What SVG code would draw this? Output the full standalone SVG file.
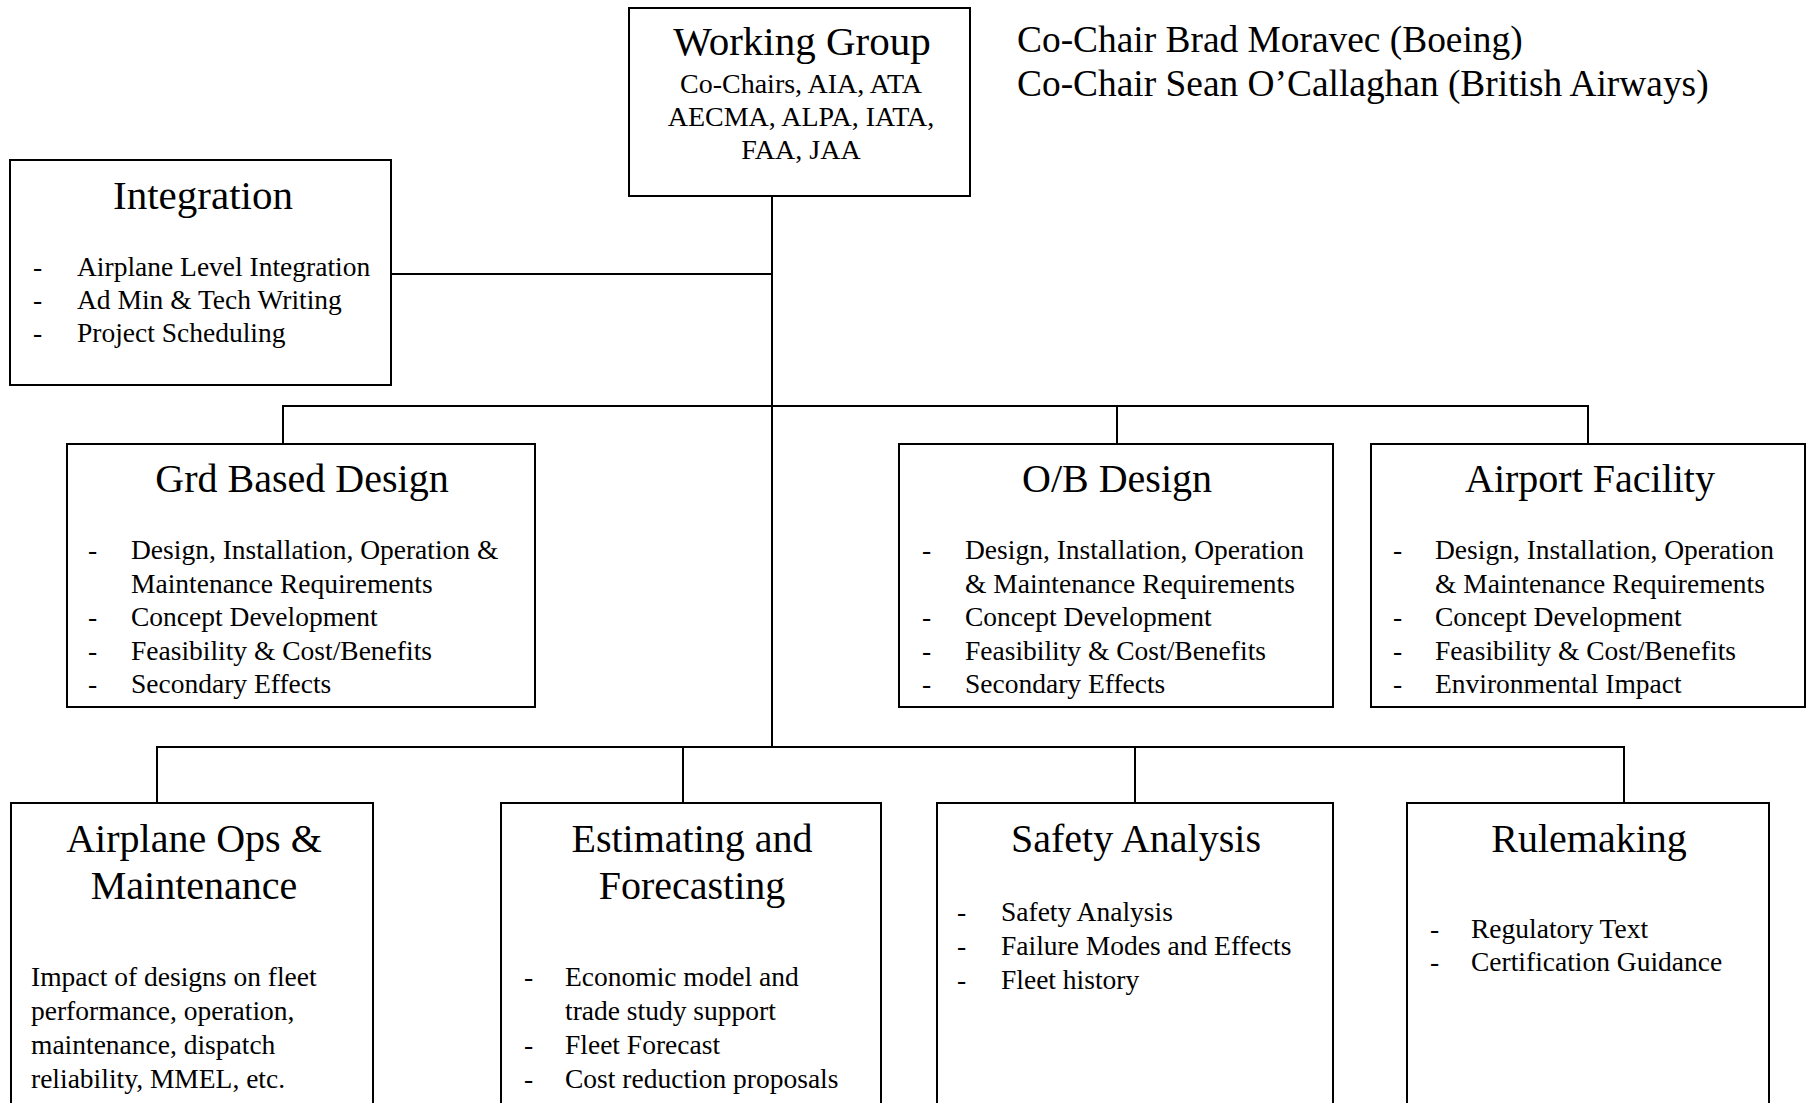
<svg xmlns="http://www.w3.org/2000/svg" width="1807" height="1103" viewBox="0 0 1807 1103">
<style>
.box{fill:#fff;stroke:#000;stroke-width:2}
.ln{fill:none;stroke:#000;stroke-width:2}
text{font-family:"Liberation Serif","Times New Roman",serif;fill:#000}
.t{font-size:40px;text-anchor:middle}
.tl{font-size:41px;text-anchor:middle}
.b{font-size:27.5px}
.s{font-size:28px;text-anchor:middle}
.c{font-size:37.4px}
</style>
<rect width="1807" height="1103" fill="#fff"/>
<g id="connectors">
<path class="ln" d="M772 196V747"/>
<path class="ln" d="M391 274H772"/>
<path class="ln" d="M283 444V406H1588V444"/>
<path class="ln" d="M1117 406V444"/>
<path class="ln" d="M157 803V747H1624V803"/>
<path class="ln" d="M683 747V803"/>
<path class="ln" d="M1135 747V803"/>
</g>
<g id="working-group">
<rect class="box" x="629" y="8" width="341" height="188"/>
<text class="tl" x="802" y="55">Working Group</text>
<text class="s" x="801" y="93">Co-Chairs, AIA, ATA</text>
<text class="s" x="801" y="126">AECMA, ALPA, IATA,</text>
<text class="s" x="801" y="159">FAA, JAA</text>
</g>
<g id="co-chairs">
<text class="c" x="1017" y="52">Co-Chair Brad Moravec (Boeing)</text>
<text class="c" x="1017" y="96">Co-Chair Sean O’Callaghan (British Airways)</text>
</g>
<g id="integration">
<rect class="box" x="10" y="160" width="381" height="225"/>
<text class="tl" x="203" y="209">Integration</text>
<text class="b" x="33" y="276">-</text><text class="b" x="77" y="276">Airplane Level Integration</text>
<text class="b" x="33" y="309">-</text><text class="b" x="77" y="309">Ad Min &amp; Tech Writing</text>
<text class="b" x="33" y="342">-</text><text class="b" x="77" y="342">Project Scheduling</text>
</g>
<g id="grd-based-design">
<rect class="box" x="67" y="444" width="468" height="263"/>
<text class="t" x="302" y="492">Grd Based Design</text>
<text class="b" x="88" y="559">-</text><text class="b" x="131" y="559">Design, Installation, Operation &amp;</text>
<text class="b" x="131" y="593">Maintenance Requirements</text>
<text class="b" x="88" y="626">-</text><text class="b" x="131" y="626">Concept Development</text>
<text class="b" x="88" y="660">-</text><text class="b" x="131" y="660">Feasibility &amp; Cost/Benefits</text>
<text class="b" x="88" y="693">-</text><text class="b" x="131" y="693">Secondary Effects</text>
</g>
<g id="ob-design">
<rect class="box" x="899" y="444" width="434" height="263"/>
<text class="t" x="1117" y="492">O/B Design</text>
<text class="b" x="922" y="559">-</text><text class="b" x="965" y="559">Design, Installation, Operation</text>
<text class="b" x="965" y="593">&amp; Maintenance Requirements</text>
<text class="b" x="922" y="626">-</text><text class="b" x="965" y="626">Concept Development</text>
<text class="b" x="922" y="660">-</text><text class="b" x="965" y="660">Feasibility &amp; Cost/Benefits</text>
<text class="b" x="922" y="693">-</text><text class="b" x="965" y="693">Secondary Effects</text>
</g>
<g id="airport-facility">
<rect class="box" x="1371" y="444" width="434" height="263"/>
<text class="t" x="1590" y="492">Airport Facility</text>
<text class="b" x="1393" y="559">-</text><text class="b" x="1435" y="559">Design, Installation, Operation</text>
<text class="b" x="1435" y="593">&amp; Maintenance Requirements</text>
<text class="b" x="1393" y="626">-</text><text class="b" x="1435" y="626">Concept Development</text>
<text class="b" x="1393" y="660">-</text><text class="b" x="1435" y="660">Feasibility &amp; Cost/Benefits</text>
<text class="b" x="1393" y="693">-</text><text class="b" x="1435" y="693">Environmental Impact</text>
</g>
<g id="airplane-ops">
<rect class="box" x="11" y="803" width="362" height="330"/>
<text class="t" x="194" y="852">Airplane Ops &amp;</text>
<text class="t" x="194" y="899">Maintenance</text>
<text class="b" x="31" y="986">Impact of designs on fleet</text>
<text class="b" x="31" y="1020">performance, operation,</text>
<text class="b" x="31" y="1054">maintenance, dispatch</text>
<text class="b" x="31" y="1088">reliability, MMEL, etc.</text>
</g>
<g id="estimating">
<rect class="box" x="501" y="803" width="380" height="330"/>
<text class="t" x="692" y="852">Estimating and</text>
<text class="t" x="692" y="899">Forecasting</text>
<text class="b" x="524" y="986">-</text><text class="b" x="565" y="986">Economic model and</text>
<text class="b" x="565" y="1020">trade study support</text>
<text class="b" x="524" y="1054">-</text><text class="b" x="565" y="1054">Fleet Forecast</text>
<text class="b" x="524" y="1088">-</text><text class="b" x="565" y="1088">Cost reduction proposals</text>
</g>
<g id="safety-analysis">
<rect class="box" x="937" y="803" width="396" height="330"/>
<text class="t" x="1136" y="852">Safety Analysis</text>
<text class="b" x="957" y="921">-</text><text class="b" x="1001" y="921">Safety Analysis</text>
<text class="b" x="957" y="955">-</text><text class="b" x="1001" y="955">Failure Modes and Effects</text>
<text class="b" x="957" y="989">-</text><text class="b" x="1001" y="989">Fleet history</text>
</g>
<g id="rulemaking">
<rect class="box" x="1407" y="803" width="362" height="330"/>
<text class="t" x="1589" y="852">Rulemaking</text>
<text class="b" x="1430" y="938">-</text><text class="b" x="1471" y="938">Regulatory Text</text>
<text class="b" x="1430" y="971">-</text><text class="b" x="1471" y="971">Certification Guidance</text>
</g>
</svg>
